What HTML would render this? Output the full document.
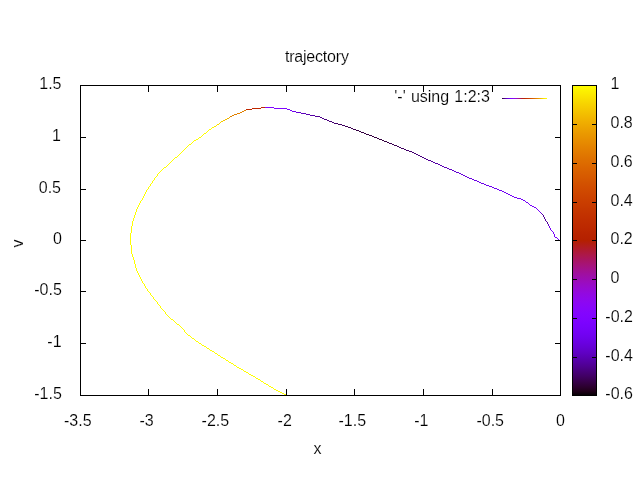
<!DOCTYPE html>
<html><head><meta charset="utf-8"><title>trajectory</title>
<style>html,body{margin:0;padding:0;background:#fff;}svg{display:block;}text{font-family:"Liberation Sans",Arial,sans-serif;font-size:16px;fill:#000;stroke:#fff;stroke-width:0.15px;}</style>
</head><body>
<svg width="640" height="480" viewBox="0 0 640 480">
<rect x="0" y="0" width="640" height="480" fill="#ffffff"/>
<defs><linearGradient id="cb" x1="0" y1="1" x2="0" y2="0">
<stop offset="0.0000" stop-color="#000000"/>
<stop offset="0.0156" stop-color="#200019"/>
<stop offset="0.0312" stop-color="#2d0032"/>
<stop offset="0.0469" stop-color="#37004a"/>
<stop offset="0.0625" stop-color="#400062"/>
<stop offset="0.0781" stop-color="#470078"/>
<stop offset="0.0938" stop-color="#4e008e"/>
<stop offset="0.1094" stop-color="#5400a2"/>
<stop offset="0.1250" stop-color="#5a00b4"/>
<stop offset="0.1406" stop-color="#6001c5"/>
<stop offset="0.1562" stop-color="#6501d4"/>
<stop offset="0.1719" stop-color="#6a01e1"/>
<stop offset="0.1875" stop-color="#6e02ec"/>
<stop offset="0.2031" stop-color="#7302f4"/>
<stop offset="0.2188" stop-color="#7703fa"/>
<stop offset="0.2344" stop-color="#7b03fe"/>
<stop offset="0.2500" stop-color="#8004ff"/>
<stop offset="0.2656" stop-color="#8305fe"/>
<stop offset="0.2812" stop-color="#8706fa"/>
<stop offset="0.2969" stop-color="#8b07f4"/>
<stop offset="0.3125" stop-color="#8f08ec"/>
<stop offset="0.3281" stop-color="#9209e1"/>
<stop offset="0.3438" stop-color="#960ad4"/>
<stop offset="0.3594" stop-color="#990cc5"/>
<stop offset="0.3750" stop-color="#9c0db4"/>
<stop offset="0.3906" stop-color="#9f0fa2"/>
<stop offset="0.4062" stop-color="#a3118e"/>
<stop offset="0.4219" stop-color="#a61378"/>
<stop offset="0.4375" stop-color="#a91562"/>
<stop offset="0.4531" stop-color="#ac184a"/>
<stop offset="0.4688" stop-color="#af1a32"/>
<stop offset="0.4844" stop-color="#b11d19"/>
<stop offset="0.5000" stop-color="#b42000"/>
<stop offset="0.5156" stop-color="#b72300"/>
<stop offset="0.5312" stop-color="#ba2600"/>
<stop offset="0.5469" stop-color="#bd2a00"/>
<stop offset="0.5625" stop-color="#bf2d00"/>
<stop offset="0.5781" stop-color="#c23100"/>
<stop offset="0.5938" stop-color="#c43500"/>
<stop offset="0.6094" stop-color="#c73a00"/>
<stop offset="0.6250" stop-color="#ca3e00"/>
<stop offset="0.6406" stop-color="#cc4300"/>
<stop offset="0.6562" stop-color="#cf4800"/>
<stop offset="0.6719" stop-color="#d14d00"/>
<stop offset="0.6875" stop-color="#d35300"/>
<stop offset="0.7031" stop-color="#d65900"/>
<stop offset="0.7188" stop-color="#d85f00"/>
<stop offset="0.7344" stop-color="#db6500"/>
<stop offset="0.7500" stop-color="#dd6c00"/>
<stop offset="0.7656" stop-color="#df7200"/>
<stop offset="0.7812" stop-color="#e17a00"/>
<stop offset="0.7969" stop-color="#e48100"/>
<stop offset="0.8125" stop-color="#e68900"/>
<stop offset="0.8281" stop-color="#e89100"/>
<stop offset="0.8438" stop-color="#ea9900"/>
<stop offset="0.8594" stop-color="#eca200"/>
<stop offset="0.8750" stop-color="#efab00"/>
<stop offset="0.8906" stop-color="#f1b400"/>
<stop offset="0.9062" stop-color="#f3be00"/>
<stop offset="0.9219" stop-color="#f5c800"/>
<stop offset="0.9375" stop-color="#f7d200"/>
<stop offset="0.9531" stop-color="#f9dd00"/>
<stop offset="0.9688" stop-color="#fbe800"/>
<stop offset="0.9844" stop-color="#fdf300"/>
<stop offset="1.0000" stop-color="#ffff00"/>
</linearGradient>
<linearGradient id="lg" x1="0" y1="0" x2="1" y2="0">
<stop offset="0.0000" stop-color="#300038"/>
<stop offset="0.0625" stop-color="#500093"/>
<stop offset="0.1250" stop-color="#6601d7"/>
<stop offset="0.1875" stop-color="#7803fb"/>
<stop offset="0.2500" stop-color="#8806f9"/>
<stop offset="0.3125" stop-color="#960bd1"/>
<stop offset="0.3750" stop-color="#a31289"/>
<stop offset="0.4375" stop-color="#af1b2c"/>
<stop offset="0.5000" stop-color="#bb2700"/>
<stop offset="0.5625" stop-color="#c53600"/>
<stop offset="0.6250" stop-color="#cf4900"/>
<stop offset="0.6875" stop-color="#d96000"/>
<stop offset="0.7500" stop-color="#e27b00"/>
<stop offset="0.8125" stop-color="#eb9b00"/>
<stop offset="0.8750" stop-color="#f3c000"/>
<stop offset="0.9375" stop-color="#fbeb00"/>
<stop offset="1.0000" stop-color="#ffff00"/>
</linearGradient></defs>
<rect x="572" y="85" width="25" height="311" fill="url(#cb)"/>
<g shape-rendering="crispEdges" stroke="#000" stroke-width="1" fill="none">
<rect x="572.5" y="85.5" width="24" height="310"/>
<rect x="80.5" y="85.5" width="480" height="310"/>
<path d="M80.5 395V389M80.5 86V92"/>
<path d="M148.5 395V389M148.5 86V92"/>
<path d="M217.5 395V389M217.5 86V92"/>
<path d="M286.5 395V389M286.5 86V92"/>
<path d="M354.5 395V389M354.5 86V92"/>
<path d="M423.5 395V389M423.5 86V92"/>
<path d="M492.5 395V389M492.5 86V92"/>
<path d="M560.5 395V389M560.5 86V92"/>
<path d="M81 395.5H86M560 395.5H555"/>
<path d="M81 343.5H86M560 343.5H555"/>
<path d="M81 291.5H86M560 291.5H555"/>
<path d="M81 240.5H86M560 240.5H555"/>
<path d="M81 189.5H86M560 189.5H555"/>
<path d="M81 137.5H86M560 137.5H555"/>
<path d="M81 85.5H86M560 85.5H555"/>
<path d="M573 395.5H577M596 395.5H592"/>
<path d="M573 357.5H577M596 357.5H592"/>
<path d="M573 318.5H577M596 318.5H592"/>
<path d="M573 279.5H577M596 279.5H592"/>
<path d="M573 240.5H577M596 240.5H592"/>
<path d="M573 202.5H577M596 202.5H592"/>
<path d="M573 163.5H577M596 163.5H592"/>
<path d="M573 124.5H577M596 124.5H592"/>
<path d="M573 85.5H577M596 85.5H592"/>
</g>
<text x="77.8" y="426" text-anchor="middle">-3.5</text>
<text x="146.6" y="426" text-anchor="middle">-3</text>
<text x="215.4" y="426" text-anchor="middle">-2.5</text>
<text x="284.7" y="426" text-anchor="middle">-2</text>
<text x="352.3" y="426" text-anchor="middle">-1.5</text>
<text x="421.4" y="426" text-anchor="middle">-1</text>
<text x="490.2" y="426" text-anchor="middle">-0.5</text>
<text x="560.5" y="426" text-anchor="middle">0</text>
<text x="61.8" y="398.75" text-anchor="end">-1.5</text>
<text x="61.6" y="346.75" text-anchor="end">-1</text>
<text x="61.8" y="294.75" text-anchor="end">-0.5</text>
<text x="62.0" y="243.75" text-anchor="end">0</text>
<text x="61.0" y="192.75" text-anchor="end">0.5</text>
<text x="61.0" y="140.75" text-anchor="end">1</text>
<text x="61.5" y="88.75" text-anchor="end">1.5</text>
<text x="605.3" y="398.75">-0.6</text>
<text x="605.3" y="360.75">-0.4</text>
<text x="605.3" y="321.75">-0.2</text>
<text x="610.5" y="282.75">0</text>
<text x="610.5" y="243.75">0.2</text>
<text x="610.5" y="205.75">0.4</text>
<text x="610.5" y="166.75">0.6</text>
<text x="610.5" y="127.75">0.8</text>
<text x="610.5" y="88.75">1</text>
<text x="316.8" y="61.5" text-anchor="middle" letter-spacing="-0.2">trajectory</text>
<text x="317.5" y="454" text-anchor="middle">x</text>
<text transform="translate(23,243.4) rotate(-90)" text-anchor="middle">v</text>
<text x="489.9" y="102" text-anchor="end" word-spacing="0.7">'-' using 1:2:3</text>
<rect x="502" y="98" width="45" height="1" fill="url(#lg)" shape-rendering="crispEdges"/>
<g fill="none" stroke-width="1" shape-rendering="crispEdges">
<path stroke="#7a03fd" d="M288 109.5h1M556 237.5h1M557 238.5h1M558 239.5h1"/>
<path stroke="#7803fa" d="M289 109.5h1M530 205.5h2M532 206.5h2M534 207.5h2M536 208.5h1M537 209.5h1M538 210.5h1M539 211.5h1M550 228.5h1M550 229.5h1M551 230.5h1M552 231.5h1M553 232.5h1M553 233.5h1M554 234.5h1M554 235.5h1M554 236.5h1M555 237.5h1"/>
<path stroke="#6c01e7" d="M294 111.5h2M475 180.5h2M477 181.5h2M479 182.5h2M481 183.5h3M484 184.5h2M540 212.5h1M549 226.5h1M549 227.5h1"/>
<path stroke="#5f01c4" d="M300 112.5h1M301 113.5h2M448 168.5h1M449 169.5h3M452 170.5h1M541 213.5h1M548 224.5h1M548 225.5h1"/>
<path stroke="#510096" d="M315 116.5h4M428 160.5h3M431 161.5h2M542 214.5h1M543 215.5h1M543 216.5h1M544 217.5h1M544 218.5h1M545 219.5h1M545 220.5h1M546 221.5h1M547 222.5h1M547 223.5h1"/>
<path stroke="#7502f7" d="M290 110.5h2M510 195.5h2M512 196.5h2M514 197.5h3M517 198.5h4M521 199.5h2M523 200.5h2M525 201.5h1M526 202.5h2M528 203.5h1M529 204.5h1"/>
<path stroke="#7202f3" d="M292 111.5h1M495 188.5h2M497 189.5h2M499 190.5h3M502 191.5h2M504 192.5h2M506 193.5h2M508 194.5h2"/>
<path stroke="#6f02ed" d="M293 111.5h1M486 185.5h3M489 186.5h3M492 187.5h2M494 188.5h1"/>
<path stroke="#6901df" d="M296 112.5h1M466 176.5h1M467 177.5h2M469 178.5h3M472 179.5h2M474 180.5h1"/>
<path stroke="#6601d7" d="M297 112.5h1M458 172.5h1M459 173.5h2M461 174.5h2M463 175.5h2M465 176.5h1"/>
<path stroke="#6301ce" d="M298 112.5h2M453 170.5h1M454 171.5h2M456 172.5h2"/>
<path stroke="#5c01ba" d="M303 113.5h3M443 166.5h1M444 167.5h3M447 168.5h1"/>
<path stroke="#5800af" d="M306 114.5h4M310 115.5h1M438 164.5h2M440 165.5h2M442 166.5h1"/>
<path stroke="#5500a3" d="M311 115.5h4M433 162.5h2M435 163.5h3"/>
<path stroke="#4c0089" d="M319 116.5h1M320 117.5h2M322 118.5h2M423 157.5h1M424 158.5h2M426 159.5h2"/>
<path stroke="#48007b" d="M324 119.5h3M327 120.5h2M329 121.5h2M416 154.5h2M418 155.5h2M420 156.5h2M422 157.5h1"/>
<path stroke="#43006d" d="M331 121.5h1M332 122.5h2M334 123.5h3M407 150.5h2M409 151.5h3M412 152.5h2M414 153.5h2"/>
<path stroke="#3e005e" d="M337 123.5h1M338 124.5h4M342 125.5h3M345 126.5h1M398 146.5h1M399 147.5h2M401 148.5h3M404 149.5h2M406 150.5h1"/>
<path stroke="#39004f" d="M346 126.5h2M348 127.5h3M351 128.5h2M353 129.5h2M389 143.5h3M392 144.5h2M394 145.5h3M397 146.5h1"/>
<path stroke="#33003f" d="M355 129.5h1M356 130.5h3M359 131.5h2M361 132.5h3M364 133.5h2M366 134.5h3M369 135.5h3M372 136.5h2M374 137.5h3M377 138.5h2M379 139.5h3M382 140.5h2M384 141.5h3M387 142.5h2"/>
<path stroke="#7d04fe" d="M286 108.5h1M287 109.5h1"/>
<path stroke="#8004ff" d="M265 107.5h9M274 108.5h12"/>
<path stroke="#c02800" d="M261 107.5h4M252 108.5h9M246 109.5h6"/>
<path stroke="#e08000" d="M244 110.5h2M242 111.5h2M240 112.5h2M237 113.5h3M234 114.5h3M232 115.5h2M230 116.5h2"/>
<path stroke="#efae00" d="M229 117.5h1"/>
<path stroke="#f1b400" d="M227 118.5h2"/>
<path stroke="#f2ba00" d="M226 119.5h1"/>
<path stroke="#f3c000" d="M225 119.5h1M224 120.5h1"/>
<path stroke="#f5c700" d="M223 120.5h1"/>
<path stroke="#f6cd00" d="M221 121.5h2"/>
<path stroke="#f7d400" d="M220 122.5h1"/>
<path stroke="#f9db00" d="M219 123.5h1M218 124.5h1"/>
<path stroke="#fae200" d="M217 124.5h1"/>
<path stroke="#fbe900" d="M216 125.5h1M215 126.5h1"/>
<path stroke="#fcf000" d="M214 126.5h1"/>
<path stroke="#fef700" d="M212 127.5h2"/>
<path stroke="#ffff00" d="M211 128.5h1M209 129.5h2M208 130.5h1M207 131.5h1M206 132.5h1M204 133.5h2M203 134.5h1M202 135.5h1M201 136.5h1M199 137.5h2M198 138.5h1M196 139.5h2M194 140.5h2M193 141.5h1M192 142.5h1M191 143.5h1M189 144.5h2M188 145.5h1M187 146.5h1M186 147.5h1M185 148.5h1M184 149.5h1M183 150.5h1M182 151.5h1M181 152.5h1M180 153.5h1M179 154.5h1M178 155.5h1M177 156.5h1M175 157.5h2M174 158.5h1M173 159.5h1M172 160.5h1M171 161.5h1M170 162.5h1M169 163.5h1M168 164.5h1M167 165.5h1M166 166.5h1M164 167.5h2M163 168.5h1M162 169.5h1M161 170.5h1M160 171.5h1M159 172.5h1M158 173.5h1M157 174.5h1M157 175.5h1M156 176.5h1M155 177.5h1M154 178.5h1M154 179.5h1M153 180.5h1M152 181.5h1M152 182.5h1M151 183.5h1M150 184.5h1M150 185.5h1M149 186.5h1M148 187.5h1M148 188.5h1M147 189.5h1M146 190.5h1M146 191.5h1M145 192.5h1M145 193.5h1M144 194.5h1M144 195.5h1M143 196.5h1M143 197.5h1M142 198.5h1M142 199.5h1M141 200.5h1M140 201.5h1M140 202.5h1M139 203.5h1M139 204.5h1M138 205.5h1M138 206.5h1M137 207.5h1M137 208.5h1M136 209.5h1M136 210.5h1M136 211.5h1M135 212.5h1M135 213.5h1M135 214.5h1M134 215.5h1M134 216.5h1M134 217.5h1M133 218.5h1M133 219.5h1M133 220.5h1M132 221.5h1M132 222.5h1M132 223.5h1M132 224.5h1M132 225.5h1M131 226.5h1M131 227.5h1M131 228.5h1M131 229.5h1M131 230.5h1M131 231.5h1M131 232.5h1M130 233.5h1M130 234.5h1M130 235.5h1M130 236.5h1M130 237.5h1M130 238.5h1M130 239.5h1M130 240.5h1M130 241.5h1M130 242.5h1M130 243.5h1M130 244.5h1M131 245.5h1M131 246.5h1M131 247.5h1M131 248.5h1M131 249.5h1M131 250.5h1M131 251.5h1M131 252.5h1M131 253.5h1M132 254.5h1M132 255.5h1M132 256.5h1M133 257.5h1M133 258.5h1M133 259.5h1M134 260.5h1M134 261.5h1M134 262.5h1M134 263.5h1M135 264.5h1M135 265.5h1M135 266.5h1M135 267.5h1M136 268.5h1M136 269.5h1M136 270.5h1M137 271.5h1M137 272.5h1M138 273.5h1M138 274.5h1M139 275.5h1M139 276.5h1M140 277.5h1M140 278.5h1M141 279.5h1M141 280.5h1M142 281.5h1M142 282.5h1M143 283.5h1M144 284.5h1M144 285.5h1M145 286.5h1M145 287.5h1M146 288.5h1M147 289.5h1M147 290.5h1M148 291.5h1M149 292.5h1M150 293.5h1M150 294.5h1M151 295.5h1M152 296.5h1M153 297.5h1M153 298.5h1M154 299.5h1M155 300.5h1M156 301.5h1M157 302.5h1M157 303.5h1M158 304.5h1M159 305.5h1M160 306.5h1M160 307.5h1M161 308.5h1M162 309.5h1M163 310.5h1M164 311.5h1M165 312.5h1M165 313.5h1M166 314.5h1M167 315.5h1M168 316.5h1M169 317.5h1M170 318.5h1M171 319.5h2M173 320.5h1M174 321.5h1M175 322.5h1M176 323.5h1M177 324.5h2M179 325.5h1M180 326.5h1M181 327.5h1M182 328.5h1M183 329.5h1M184 330.5h1M184 331.5h1M185 332.5h1M186 333.5h1M187 334.5h1M188 335.5h2M190 336.5h1M191 337.5h1M192 338.5h2M194 339.5h1M195 340.5h1M196 341.5h2M198 342.5h1M199 343.5h2M201 344.5h1M202 345.5h2M204 346.5h2M206 347.5h1M207 348.5h2M209 349.5h1M210 350.5h2M212 351.5h2M214 352.5h1M215 353.5h2M217 354.5h1M218 355.5h2M220 356.5h1M221 357.5h2M223 358.5h2M225 359.5h1M226 360.5h2M228 361.5h1M229 362.5h2M231 363.5h2M233 364.5h1M234 365.5h2M236 366.5h1M237 367.5h2M239 368.5h2M241 369.5h2M243 370.5h1M244 371.5h2M246 372.5h2M248 373.5h1M249 374.5h2M251 375.5h2M253 376.5h2M255 377.5h1M256 378.5h2M258 379.5h2M260 380.5h1M261 381.5h2M263 382.5h1M264 383.5h2M266 384.5h2M268 385.5h1M269 386.5h2M271 387.5h2M273 388.5h1M274 389.5h2M276 390.5h2M278 391.5h2M280 392.5h2M282 393.5h2M284 394.5h2"/>
</g>
</svg></body></html>
